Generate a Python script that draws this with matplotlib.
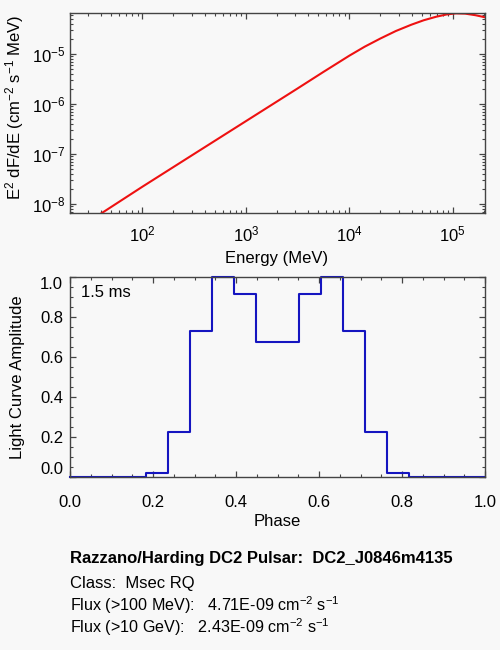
import numpy as np
import matplotlib
matplotlib.use('Agg')
import matplotlib.pyplot as plt
from matplotlib.ticker import LogLocator, MultipleLocator, NullFormatter

plt.rcParams['font.family'] = ['Liberation Sans', 'DejaVu Sans']
plt.rcParams['mathtext.fontset'] = 'custom'
plt.rcParams['mathtext.rm'] = 'Liberation Sans'
plt.rcParams['mathtext.it'] = 'Liberation Sans'
plt.rcParams['font.size'] = 12

# spectrum (E in MeV, E^2 dF/dE)
energy = [40, 100, 316, 1000, 3160, 5620, 10000, 14100, 20000, 28200, 39800,
          52500, 69200, 87100, 107000, 132000, 166000, 209000]
e2dfde = [6.46e-9, 2.21e-8, 1.0e-7, 4.52e-7, 2.04e-6, 4.37e-6, 9.23e-6,
          1.40e-5, 2.04e-5, 2.88e-5, 3.85e-5, 4.73e-5, 5.56e-5, 6.17e-5,
          6.49e-5, 6.41e-5, 5.96e-5, 5.37e-5]

# light curve, 20 phase points (drawn as histogram steps)
phase = np.linspace(0.0, 1.0, 20)
amplitude = [0.0, 0.0, 0.0, 0.0, 0.022, 0.228, 0.732, 1.0, 0.918, 0.678,
             0.678, 0.918, 1.0, 0.732, 0.228, 0.022, 0.0, 0.0, 0.0, 0.0]

title = 'Razzano/Harding DC2 Pulsar:  DC2_J0846m4135'
info_lines = ['Class:  Msec RQ',
              'Flux (>100 MeV):   4.71E-09 cm$^{-2}$ s$^{-1}$',
              'Flux (>10 GeV):   2.43E-09 cm$^{-2}$ s$^{-1}$']

bg = '#f8f8f8'
frame = '#444444'

fig = plt.figure(figsize=(5, 6.5), dpi=100, facecolor=bg)
H = 650.0

def style(ax):
    ax.set_facecolor(bg)
    for s in ax.spines.values():
        s.set_color(frame)
        s.set_linewidth(1.0)
    ax.tick_params(which='both', direction='in', top=True, right=True,
                   colors=frame, labelcolor='black', labelsize=12)
    ax.tick_params(which='major', length=4.5, width=0.9)
    ax.tick_params(which='minor', length=2.3, width=0.8)

# top panel: spectrum
ax1 = fig.add_axes([70 / 500, 1 - 213 / H, 415 / 500, 200 / H])
style(ax1)
ax1.plot(energy, e2dfde, color='#ee1111', lw=1.5)
ax1.set_xscale('log')
ax1.set_yscale('log')
ax1.set_xlim(20, 2.05e5)
ax1.set_ylim(6.6e-9, 6.6e-5)
ax1.xaxis.set_major_locator(LogLocator(base=10, numticks=10))
ax1.xaxis.set_minor_locator(LogLocator(base=10, subs=np.arange(2, 10), numticks=20))
ax1.yaxis.set_minor_locator(LogLocator(base=10, subs=np.arange(2, 10), numticks=20))
ax1.xaxis.set_minor_formatter(NullFormatter())
ax1.yaxis.set_minor_formatter(NullFormatter())
ax1.tick_params(axis='x', which='major', pad=8)
ax1.tick_params(axis='y', which='major', pad=3.5)
fig.text(15 / 500, 1 - 107 / H, 'E$^2$ dF/dE (cm$^{-2}$ s$^{-1}$ MeV)',
         rotation=90, ha='center', va='center')
fig.text(277 / 500, 1 - 258 / H, 'Energy (MeV)', ha='center', va='center')

# bottom panel: light curve
ax2 = fig.add_axes([70 / 500, 1 - 477.3 / H, 415 / 500, 200 / H])
style(ax2)
ax2.plot(phase, amplitude, drawstyle='steps-mid', color='#1515c0', lw=1.5,
         clip_on=False)
ax2.set_xlim(0, 1)
ax2.set_ylim(0, 1)
ax2.set_xticks(np.arange(0, 1.01, 0.2))
ax2.set_yticks(np.arange(0, 1.01, 0.2))
ax2.xaxis.set_minor_locator(MultipleLocator(0.05))
ax2.yaxis.set_minor_locator(MultipleLocator(0.05))
ax2.xaxis.set_major_formatter(plt.FormatStrFormatter('%.1f'))
ax2.yaxis.set_major_formatter(plt.FormatStrFormatter('%.1f'))
ax2.tick_params(axis='x', which='major', pad=12.5)
ax2.tick_params(axis='y', which='major', pad=5)
yt = ax2.yaxis.get_major_ticks()
yt[0].label1.set_va('bottom')
yt[-1].label1.set_va('top')
ax2.text(0.026, 0.96, '1.5 ms', transform=ax2.transAxes, ha='left',
         va='top')
fig.text(18 / 500, 1 - 377 / H, 'Light Curve Amplitude', rotation=90,
         ha='center', va='center')
fig.text(277 / 500, 1 - 522 / H, 'Phase', ha='center', va='center')

# text block under the plots (baselines)
fig.text(70 / 500, 1 - 563.3 / H, title, ha='left', va='baseline',
         fontweight='bold')
fig.text(70 / 500, 1 - 587.7 / H, info_lines[0], ha='left', va='baseline')
fig.text(70 / 500, 1 - 611.5 / H, info_lines[1], ha='left', va='baseline',
         fontsize=11.6)
fig.text(70 / 500, 1 - 633.5 / H, info_lines[2], ha='left', va='baseline',
         fontsize=11.6)

fig.savefig('out.png', dpi=100, facecolor=bg)
